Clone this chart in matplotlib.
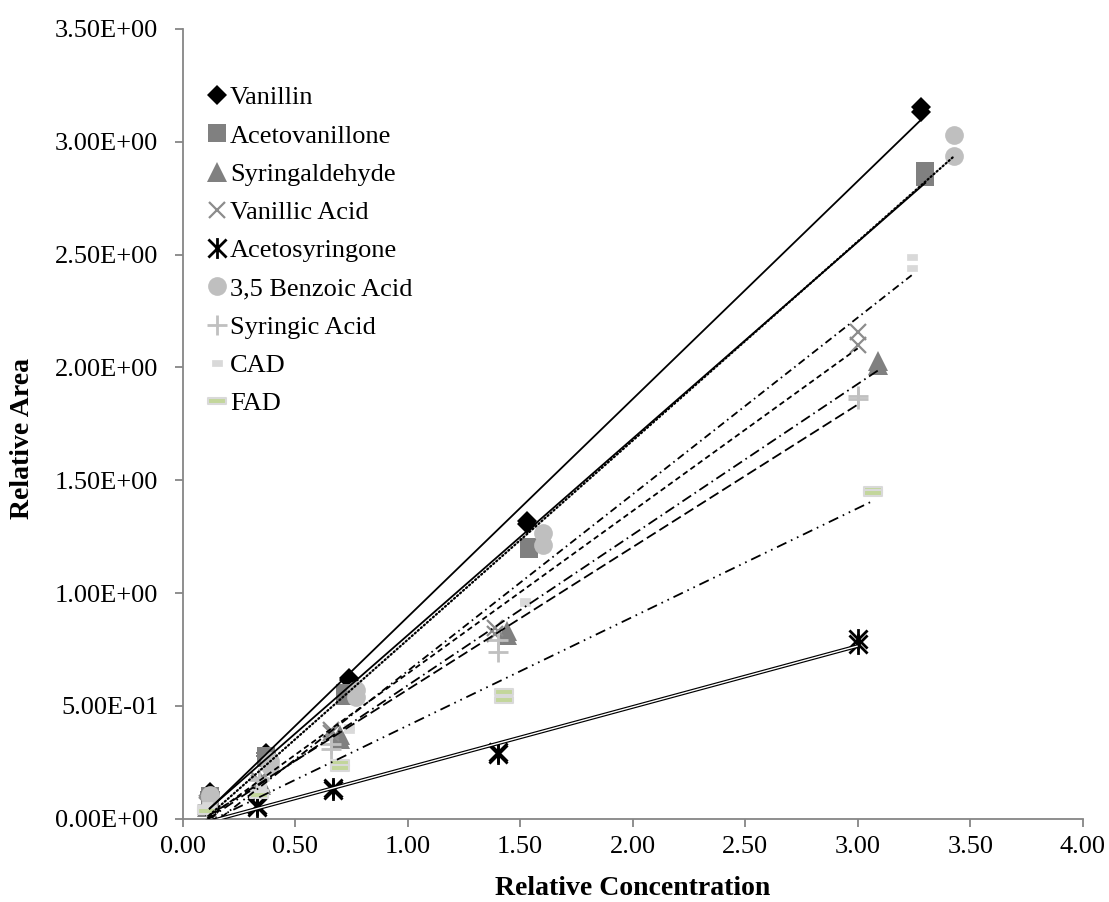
import numpy as np
import matplotlib
matplotlib.use('Agg')
import matplotlib.pyplot as plt
from matplotlib.path import Path
from matplotlib.ticker import FuncFormatter

# ---------------- data ----------------
names = ["Vanillin", "Acetovanillone", "Syringaldehyde", "Vanillic Acid",
         "Acetosyringone", "3,5 Benzoic Acid", "Syringic Acid", "CAD", "FAD"]

vanillin_x = [0.12, 0.37, 0.74, 1.53, 3.28]
vanillin_y1 = [0.120, 0.290, 0.625, 1.320, 3.155]
vanillin_y2 = [0.110, 0.280, 0.615, 1.305, 3.130]

acetovanillone_x = [0.12, 0.37, 0.72, 1.54, 3.30]
acetovanillone_y1 = [0.100, 0.280, 0.555, 1.205, 2.870]
acetovanillone_y2 = [0.095, 0.270, 0.545, 1.195, 2.845]

syringaldehyde_x = [0.11, 0.35, 0.70, 1.44, 3.09]
syringaldehyde_y1 = [0.060, 0.160, 0.370, 0.830, 2.030]
syringaldehyde_y2 = [0.050, 0.150, 0.355, 0.815, 2.010]

vanillic_x = [0.11, 0.34, 0.66, 1.39, 3.00]
vanillic_y1 = [0.070, 0.170, 0.395, 0.845, 2.155]
vanillic_y2 = [0.060, 0.160, 0.380, 0.820, 2.100]

acetosyringone_x = [0.12, 0.33, 0.67, 1.40, 3.00]
acetosyringone_y1 = [0.010, 0.060, 0.135, 0.295, 0.795]
acetosyringone_y2 = [0.005, 0.050, 0.125, 0.285, 0.775]

benzoic_x = [0.12, 0.39, 0.77, 1.60, 3.43]
benzoic_y1 = [0.105, 0.255, 0.570, 1.265, 3.030]
benzoic_y2 = [0.095, 0.235, 0.540, 1.215, 2.935]

syringic_x = [0.11, 0.34, 0.66, 1.40, 3.00]
syringic_y1 = [0.060, 0.180, 0.330, 0.790, 1.875]
syringic_y2 = [0.050, 0.170, 0.310, 0.740, 1.860]

cad_x = [0.11, 0.35, 0.74, 1.52, 3.24]
cad_y1 = [0.060, 0.150, 0.405, 0.965, 2.490]
cad_y2 = [0.050, 0.140, 0.395, 0.955, 2.440]

fad_x = [0.11, 0.34, 0.70, 1.43, 3.07]
fad_y1 = [0.045, 0.115, 0.245, 0.563, 1.456]
fad_y2 = [0.035, 0.105, 0.223, 0.526, 1.442]

x_ticks = [0.0, 0.5, 1.0, 1.5, 2.0, 2.5, 3.0, 3.5, 4.0]
y_ticks = [0.0, 0.5, 1.0, 1.5, 2.0, 2.5, 3.0, 3.5]

# ---------------- style ----------------
plt.rcParams['font.family'] = ['Liberation Serif', 'DejaVu Serif']
plt.rcParams['lines.scale_dashes'] = False

star = Path([(-1, -1), (1, 1), (-1, 1), (1, -1), (0, -1.15), (0, 1.15)],
            [Path.MOVETO, Path.LINETO, Path.MOVETO, Path.LINETO, Path.MOVETO, Path.LINETO])
cad_rect = Path([(-1, -0.55), (1, -0.55), (1, 0.55), (-1, 0.55), (-1, -0.55)],
                [Path.MOVETO, Path.LINETO, Path.LINETO, Path.LINETO, Path.CLOSEPOLY])
fad_rect = Path([(-1, -0.3), (1, -0.3), (1, 0.3), (-1, 0.3), (-1, -0.3)],
                [Path.MOVETO, Path.LINETO, Path.LINETO, Path.LINETO, Path.CLOSEPOLY])

LW = 1.3
series = [
    (vanillin_x, vanillin_y1, vanillin_y2,
     dict(marker='D', ms=10.5, mfc='black', mec='black', mew=0),
     dict(ls='-', lw=LW)),
    (acetovanillone_x, acetovanillone_y1, acetovanillone_y2,
     dict(marker='s', ms=13, mfc='#808080', mec='#808080', mew=0),
     dict(ls='-', lw=LW)),
    (syringaldehyde_x, syringaldehyde_y1, syringaldehyde_y2,
     dict(marker='^', ms=14, mfc='#808080', mec='#808080', mew=0),
     dict(ls=(0, (7.5, 3.0, 1.2, 3.0)), lw=LW)),
    (vanillic_x, vanillic_y1, vanillic_y2,
     dict(marker='x', ms=12, mfc='none', mec='#8C8C8C', mew=1.6),
     dict(ls=(0, (4.0, 2.6)), lw=LW)),
    (acetosyringone_x, acetosyringone_y1, acetosyringone_y2,
     dict(marker=star, ms=15, mfc='none', mec='black', mew=2.0),
     None),
    (benzoic_x, benzoic_y1, benzoic_y2,
     dict(marker='o', ms=13.5, mfc='#BFBFBF', mec='#BFBFBF', mew=0),
     dict(ls=(0, (0.9, 2.0)), lw=1.6, dash_capstyle='round')),
    (syringic_x, syringic_y1, syringic_y2,
     dict(marker='+', ms=14, mfc='none', mec='#C0C0C0', mew=2.0),
     dict(ls=(0, (7.5, 3.2)), lw=LW)),
    (cad_x, cad_y1, cad_y2,
     dict(marker=cad_rect, ms=7.5, mfc='#D9D9D9', mec='#D9D9D9', mew=0.5),
     dict(ls=(0, (5.5, 2.8, 1.2, 2.8)), lw=LW)),
    (fad_x, fad_y1, fad_y2,
     dict(marker=fad_rect, ms=13.5, mfc='#C3D69B', mec='#D9D9D9', mew=1.5),
     dict(ls=(0, (7.5, 3.6, 1.2, 3.6, 1.2, 3.6)), lw=LW)),
]

fig = plt.figure(figsize=(11.09, 9.02), dpi=100)
ax = fig.add_axes([182.7 / 1109, 83.3 / 902, 900 / 1109, 789.7 / 902])

for name, (x, y1, y2, mk, ln) in zip(names, series):
    x = np.asarray(x, float)
    ax.plot(x, y1, ls='none', label=name, zorder=2, **mk)
    ax.plot(x, y2, ls='none', zorder=2, **mk)
    coef = np.polyfit(np.r_[x, x], np.r_[y1, y2], 1)
    xs = np.array([x.min(), x.max()])
    ys = np.polyval(coef, xs)
    if ln is None:
        ax.plot(xs, ys, color='black', lw=2.7, solid_capstyle='butt', zorder=3)
        ax.plot(xs, ys, color='white', lw=1.0, solid_capstyle='butt', zorder=3.1)
    else:
        ax.plot(xs, ys, color='black', zorder=3, **ln)

ax.set_xlim(0, 4)
ax.set_ylim(0, 3.5)
ax.set_xticks(x_ticks)
ax.set_yticks(y_ticks)
ax.xaxis.set_major_formatter(FuncFormatter(lambda v, p: f"{v:.2f}"))
ax.yaxis.set_major_formatter(FuncFormatter(lambda v, p: f"{v:.2E}"))

for s in ['top', 'right']:
    ax.spines[s].set_visible(False)
for s in ['left', 'bottom']:
    ax.spines[s].set_color('#868686')
    ax.spines[s].set_linewidth(1.3)
ax.tick_params(axis='both', direction='out', length=5.5, width=1.3, color='#868686',
               labelsize=19, labelcolor='black')
ax.tick_params(axis='x', pad=7)
ax.tick_params(axis='y', pad=12)

ax.set_xlabel("Relative Concentration", fontsize=20, fontweight='bold', va='center')
ax.xaxis.set_label_coords(0.5, -0.088)
ax.set_ylabel("Relative Area", fontsize=20, fontweight='bold', va='center')
ax.yaxis.set_label_coords(-0.178, 0.482)

leg = ax.legend(loc='upper left', bbox_to_anchor=(208.8 / 1109, 1 - 86 / 902),
                bbox_transform=fig.transFigure, frameon=False, fontsize=19,
                handlelength=0.6, handletextpad=0.2, labelspacing=0.56,
                borderpad=0, borderaxespad=0, numpoints=1)

fig.savefig('out.png', dpi=100)
